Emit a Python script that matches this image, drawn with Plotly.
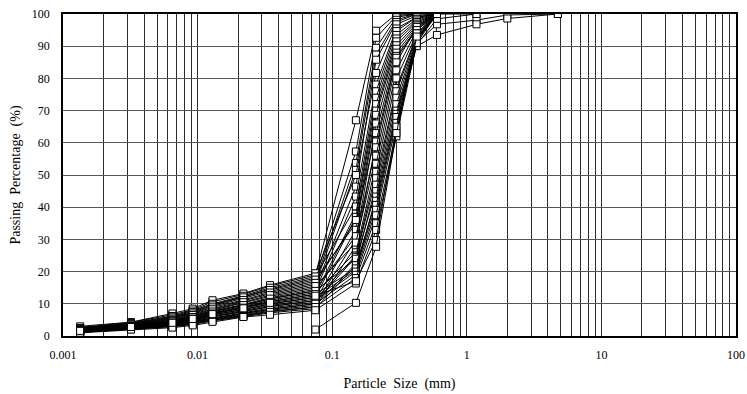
import plotly.graph_objects as go

# Particle sizes (mm): hydrometer readings + sieve openings
sizes_mm = [0.00134, 0.0032, 0.0065, 0.0092, 0.0129, 0.0219, 0.0345,
            0.075, 0.15, 0.212, 0.3, 0.425, 0.6, 1.18, 2.0, 4.75]

# Passing percentage (%) for each soil sample (None = not tested)
s01 = [2.7, 4.2, 6.6, 8.1, 10.6, 12.9, 15.5, 19.0, 67.0, 94.8, 100.0, 100.0, None, None, None, None]
s02 = [2.4, 3.9, 6.0, 7.6, 9.8, 12.2, 14.6, 18.0, 57.3, 92.6, 99.5, 100.0, None, None, None, None]
s03 = [2.2, 3.6, 5.6, 7.2, 9.2, 11.6, 13.9, 17.0, 53.7, 89.5, 99.0, 100.0, None, None, None, None]
s04 = [2.0, 3.5, 5.2, 6.8, 8.6, 10.9, 13.1, 16.0, 51.6, 87.4, 98.2, 100.0, None, None, None, None]
s05 = [1.9, 3.2, 4.9, 6.3, 8.0, 10.2, 12.3, 15.0, 46.4, 85.8, 97.5, 100.0, 100.0, 100.0, None, None]
s06 = [3.0, 4.3, 7.0, 8.5, 11.1, 13.2, 15.8, 19.5, 50.0, 81.7, 96.8, 99.5, 100.0, None, None, None]
s07 = [1.8, 3.0, 4.6, 5.9, 7.5, 9.5, 11.5, 14.0, 43.3, 78.1, 95.5, 99.0, 100.0, None, None, None]
s08 = [2.5, 4.0, 6.2, 7.9, 10.0, 12.5, 15.0, 18.5, 40.2, 76.0, 94.7, 99.0, 100.0, None, None, None]
s09 = [1.6, 2.9, 4.3, 5.5, 7.0, 8.9, 10.7, 13.0, 38.0, 74.0, 93.5, 98.5, 100.0, None, None, None]
s10 = [1.5, 2.7, 4.0, 5.1, 6.5, 8.2, 9.9, 12.0, 37.0, 72.0, 92.4, 98.0, 100.0, None, None, None]
s11 = [2.3, 3.8, 5.8, 7.4, 9.5, 12.0, 14.3, 17.5, 35.0, 70.0, 91.5, 97.5, 100.0, None, None, None]
s12 = [1.4, 2.5, 3.7, 4.7, 6.0, 7.6, 9.1, 11.0, 33.0, 68.7, 90.3, 97.0, 100.0, None, None, None]
s13 = [1.3, 2.4, 3.4, 4.3, 5.5, 7.0, 8.4, 10.0, 30.0, 66.0, 89.2, 96.5, 100.0, None, None, None]
s14 = [2.1, 3.6, 5.4, 7.0, 8.9, 11.2, 13.5, 16.5, 36.0, 63.0, 88.0, 96.0, 100.0, None, None, None]
s15 = [1.2, 2.2, 3.1, 3.9, 5.0, 6.4, 7.7, 9.0, 28.0, 60.4, 87.0, 95.5, 100.0, None, None, None]
s16 = [1.9, 3.1, 4.8, 6.1, 7.8, 9.8, 11.9, 14.5, 31.0, 58.6, 86.4, 95.0, 100.0, None, None, None]
s17 = [2.0, 3.3, 5.0, 6.5, 8.3, 10.5, 12.7, 15.5, 29.0, 56.0, 85.0, 96.0, 100.0, None, None, None]
s18 = [1.7, 3.0, 4.4, 5.7, 7.2, 9.2, 11.1, 13.5, 26.0, 53.5, 82.5, 95.0, 100.0, None, None, None]
s19 = [1.5, 2.6, 3.8, 4.9, 6.2, 7.9, 9.5, 11.5, 25.0, 51.0, 80.0, 94.0, 100.0, None, None, None]
s20 = [1.4, 2.4, 3.5, 4.5, 5.7, 7.2, 8.7, 10.5, 24.6, 49.0, 77.0, 93.5, 100.0, None, None, None]
s21 = [1.2, 2.3, 3.2, 4.1, 5.2, 6.6, 8.0, 9.5, 22.5, 47.0, 76.0, 93.0, 100.0, None, None, None]
s22 = [1.8, 3.1, 4.6, 5.9, 7.6, 9.6, 11.6, 14.0, 24.0, 45.0, 74.0, 92.5, 100.0, None, None, None]
s23 = [1.6, 2.7, 4.0, 5.1, 6.6, 8.3, 10.0, 12.0, 20.5, 43.3, 72.0, 92.0, 100.0, None, None, None]
s24 = [1.1, 2.1, 2.9, 3.6, 4.7, 6.0, 7.2, 8.5, 22.0, 42.0, 70.0, 91.5, 100.0, None, None, None]
s25 = [1.7, 2.8, 4.2, 5.4, 7.0, 8.8, 10.6, 13.0, 21.0, 40.7, 69.0, 91.0, 96.8, 98.1, 99.7, 100.0]
s26 = [1.4, 2.5, 3.6, 4.6, 6.0, 7.5, 9.2, 11.0, 20.0, 39.2, 68.0, 90.5, 98.5, 100.0, None, None]
s27 = [1.3, 2.3, 3.3, 4.3, 5.4, 6.9, 8.3, 10.0, 19.0, 37.5, 66.2, 90.0, 93.5, 96.8, 98.6, 100.0]
s28 = [1.1, 2.2, 3.0, 3.8, 4.9, 6.2, 7.5, 9.0, 18.0, 35.0, 64.0, 92.0, 100.0, None, None, None]
s29 = [1.0, 2.0, 2.6, 3.3, 4.4, 5.9, 6.6, 8.0, 16.3, 32.9, 62.0, 91.0, 100.0, None, None, None]
s30 = [1.6, 2.8, 4.1, 5.3, 6.8, 8.6, 10.3, 12.5, 17.0, 29.8, 65.0, 94.0, 100.0, None, None, None]
s31 = [None, None, None, None, None, None, None, 2.0, 10.3, 27.7, 63.0, 93.0, 100.0, None, None, None]

samples = [s01, s02, s03, s04, s05, s06, s07, s08, s09, s10, s11, s12, s13, s14, s15, s16,
           s17, s18, s19, s20, s21, s22, s23, s24, s25, s26, s27, s28, s29, s30, s31]

x_tick_labels = ["0.001", "0.01", "0.1", "1", "10", "100"]
y_tick_labels = ["0", "10", "20", "30", "40", "50", "60", "70", "80", "90", "100"]

# gridline positions at 1..9 x each decade
decades = [float(t) for t in x_tick_labels]
x_grid_vals, x_grid_text = [], []
for i, d in enumerate(decades):
    x_grid_vals.append(d)
    x_grid_text.append(x_tick_labels[i])
    if i < len(decades) - 1:
        for m in range(2, 10):
            x_grid_vals.append(d * m)
            x_grid_text.append("")

fig = go.Figure()
for s in samples:
    fig.add_trace(go.Scatter(
        x=sizes_mm, y=s, mode="lines+markers",
        line=dict(color="black", width=1),
        marker=dict(symbol="square", size=7, color="white",
                    line=dict(color="black", width=1)),
        connectgaps=False, showlegend=False, hoverinfo="skip"))

font_family = "Liberation Serif, Times New Roman, serif"
fig.update_layout(
    width=747, height=394,
    margin=dict(l=63, r=11, t=14, b=58, autoexpand=False),
    paper_bgcolor="white", plot_bgcolor="white",
    font=dict(family=font_family, size=12, color="black"),
    hovermode=False,
)
fig.update_xaxes(
    type="log", range=[-3, 2], automargin=False, ticklabeloverflow="allow",
    tickmode="array", tickvals=x_grid_vals, ticktext=x_grid_text,
    showgrid=True, gridcolor="#2a2a2a", gridwidth=1,
    showline=True, linecolor="black", linewidth=1.5, mirror=True,
    ticks="outside", ticklen=7, tickcolor="rgba(0,0,0,0)",
    tickfont=dict(family=font_family, size=12, color="black"),
    title=dict(text="Particle\u00a0 Size\u00a0 (mm)",
               font=dict(family=font_family, size=14, color="black"), standoff=17),
    zeroline=False,
)
fig.update_yaxes(
    range=[0, 100], automargin=False, ticklabeloverflow="allow",
    tickmode="array", tickvals=[float(v) for v in y_tick_labels], ticktext=y_tick_labels,
    showgrid=True, gridcolor="#555555", gridwidth=1.2,
    showline=True, linecolor="black", linewidth=1.5, mirror=True,
    ticks="outside", ticklen=9, tickcolor="rgba(0,0,0,0)",
    tickfont=dict(family=font_family, size=12, color="black"),
    title=dict(text="Passing\u00a0 Percentage\u00a0 (%)",
               font=dict(family=font_family, size=14, color="black"), standoff=8),
    zeroline=False,
)

# remove the page's default body margin so the figure fills the window exactly
fig.write_html("out.html",
               config={"displayModeBar": False},
               post_script="document.body.style.margin='0';document.body.style.overflow='hidden';")
